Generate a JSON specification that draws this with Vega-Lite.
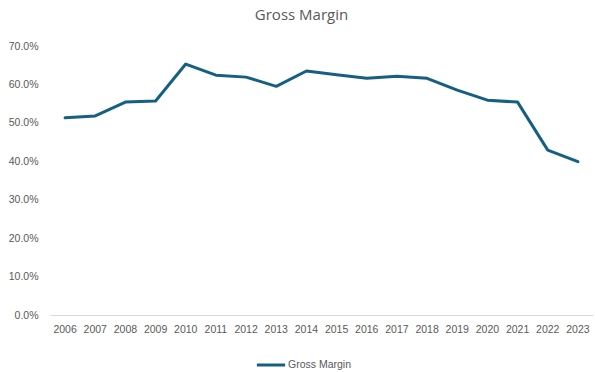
{
  "$schema": "https://vega.github.io/schema/vega-lite/v6.json",
  "autosize": "none",
  "padding": {"left": 50, "top": 46, "right": 2, "bottom": 57},
  "width": 543,
  "height": 269,
  "background": "white",
  "title": {
    "text": "Gross Margin",
    "font": "Open Sans",
    "fontSize": 15,
    "fontWeight": "normal",
    "color": "#595959",
    "anchor": "middle",
    "dx": -20,
    "offset": 18
  },
  "data": {
    "values": [
      {"year": "2006", "margin": 0.513, "series": "Gross Margin"},
      {"year": "2007", "margin": 0.518, "series": "Gross Margin"},
      {"year": "2008", "margin": 0.554, "series": "Gross Margin"},
      {"year": "2009", "margin": 0.557, "series": "Gross Margin"},
      {"year": "2010", "margin": 0.653, "series": "Gross Margin"},
      {"year": "2011", "margin": 0.624, "series": "Gross Margin"},
      {"year": "2012", "margin": 0.619, "series": "Gross Margin"},
      {"year": "2013", "margin": 0.595, "series": "Gross Margin"},
      {"year": "2014", "margin": 0.635, "series": "Gross Margin"},
      {"year": "2015", "margin": 0.625, "series": "Gross Margin"},
      {"year": "2016", "margin": 0.616, "series": "Gross Margin"},
      {"year": "2017", "margin": 0.621, "series": "Gross Margin"},
      {"year": "2018", "margin": 0.616, "series": "Gross Margin"},
      {"year": "2019", "margin": 0.585, "series": "Gross Margin"},
      {"year": "2020", "margin": 0.559, "series": "Gross Margin"},
      {"year": "2021", "margin": 0.554, "series": "Gross Margin"},
      {"year": "2022", "margin": 0.429, "series": "Gross Margin"},
      {"year": "2023", "margin": 0.399, "series": "Gross Margin"}
    ]
  },
  "mark": {"type": "line", "strokeWidth": 3, "strokeJoin": "round", "strokeCap": "round"},
  "encoding": {
    "x": {
      "field": "year",
      "type": "ordinal",
      "scale": {"paddingInner": 0, "paddingOuter": 0, "type": "band"},
      "axis": {
        "title": null,
        "labelAngle": 0,
        "labelFont": "Liberation Sans",
        "labelFontSize": 10.5,
        "labelColor": "#595959",
        "labelPadding": 9,
        "ticks": false,
        "domainColor": "#d9d9d9",
        "domainWidth": 1,
        "grid": false
      }
    },
    "y": {
      "field": "margin",
      "type": "quantitative",
      "scale": {"domain": [0, 0.7], "nice": false},
      "axis": {
        "title": null,
        "values": [0, 0.1, 0.2, 0.3, 0.4, 0.5, 0.6, 0.7],
        "format": ".1%",
        "labelFont": "Liberation Sans",
        "labelFontSize": 10.5,
        "labelColor": "#595959",
        "labelPadding": 12,
        "ticks": false,
        "domain": false,
        "grid": false
      }
    },
    "color": {
      "field": "series",
      "type": "nominal",
      "scale": {"range": ["#156082"]},
      "legend": {
        "title": null,
        "orient": "none",
        "legendX": 205,
        "legendY": 303,
        "symbolType": "stroke",
        "symbolStrokeWidth": 3,
        "symbolSize": 800,
        "labelFont": "Liberation Sans",
        "labelFontSize": 10.5,
        "labelColor": "#595959",
        "labelOffset": 1
      }
    }
  },
  "config": {"view": {"stroke": null}}
}
